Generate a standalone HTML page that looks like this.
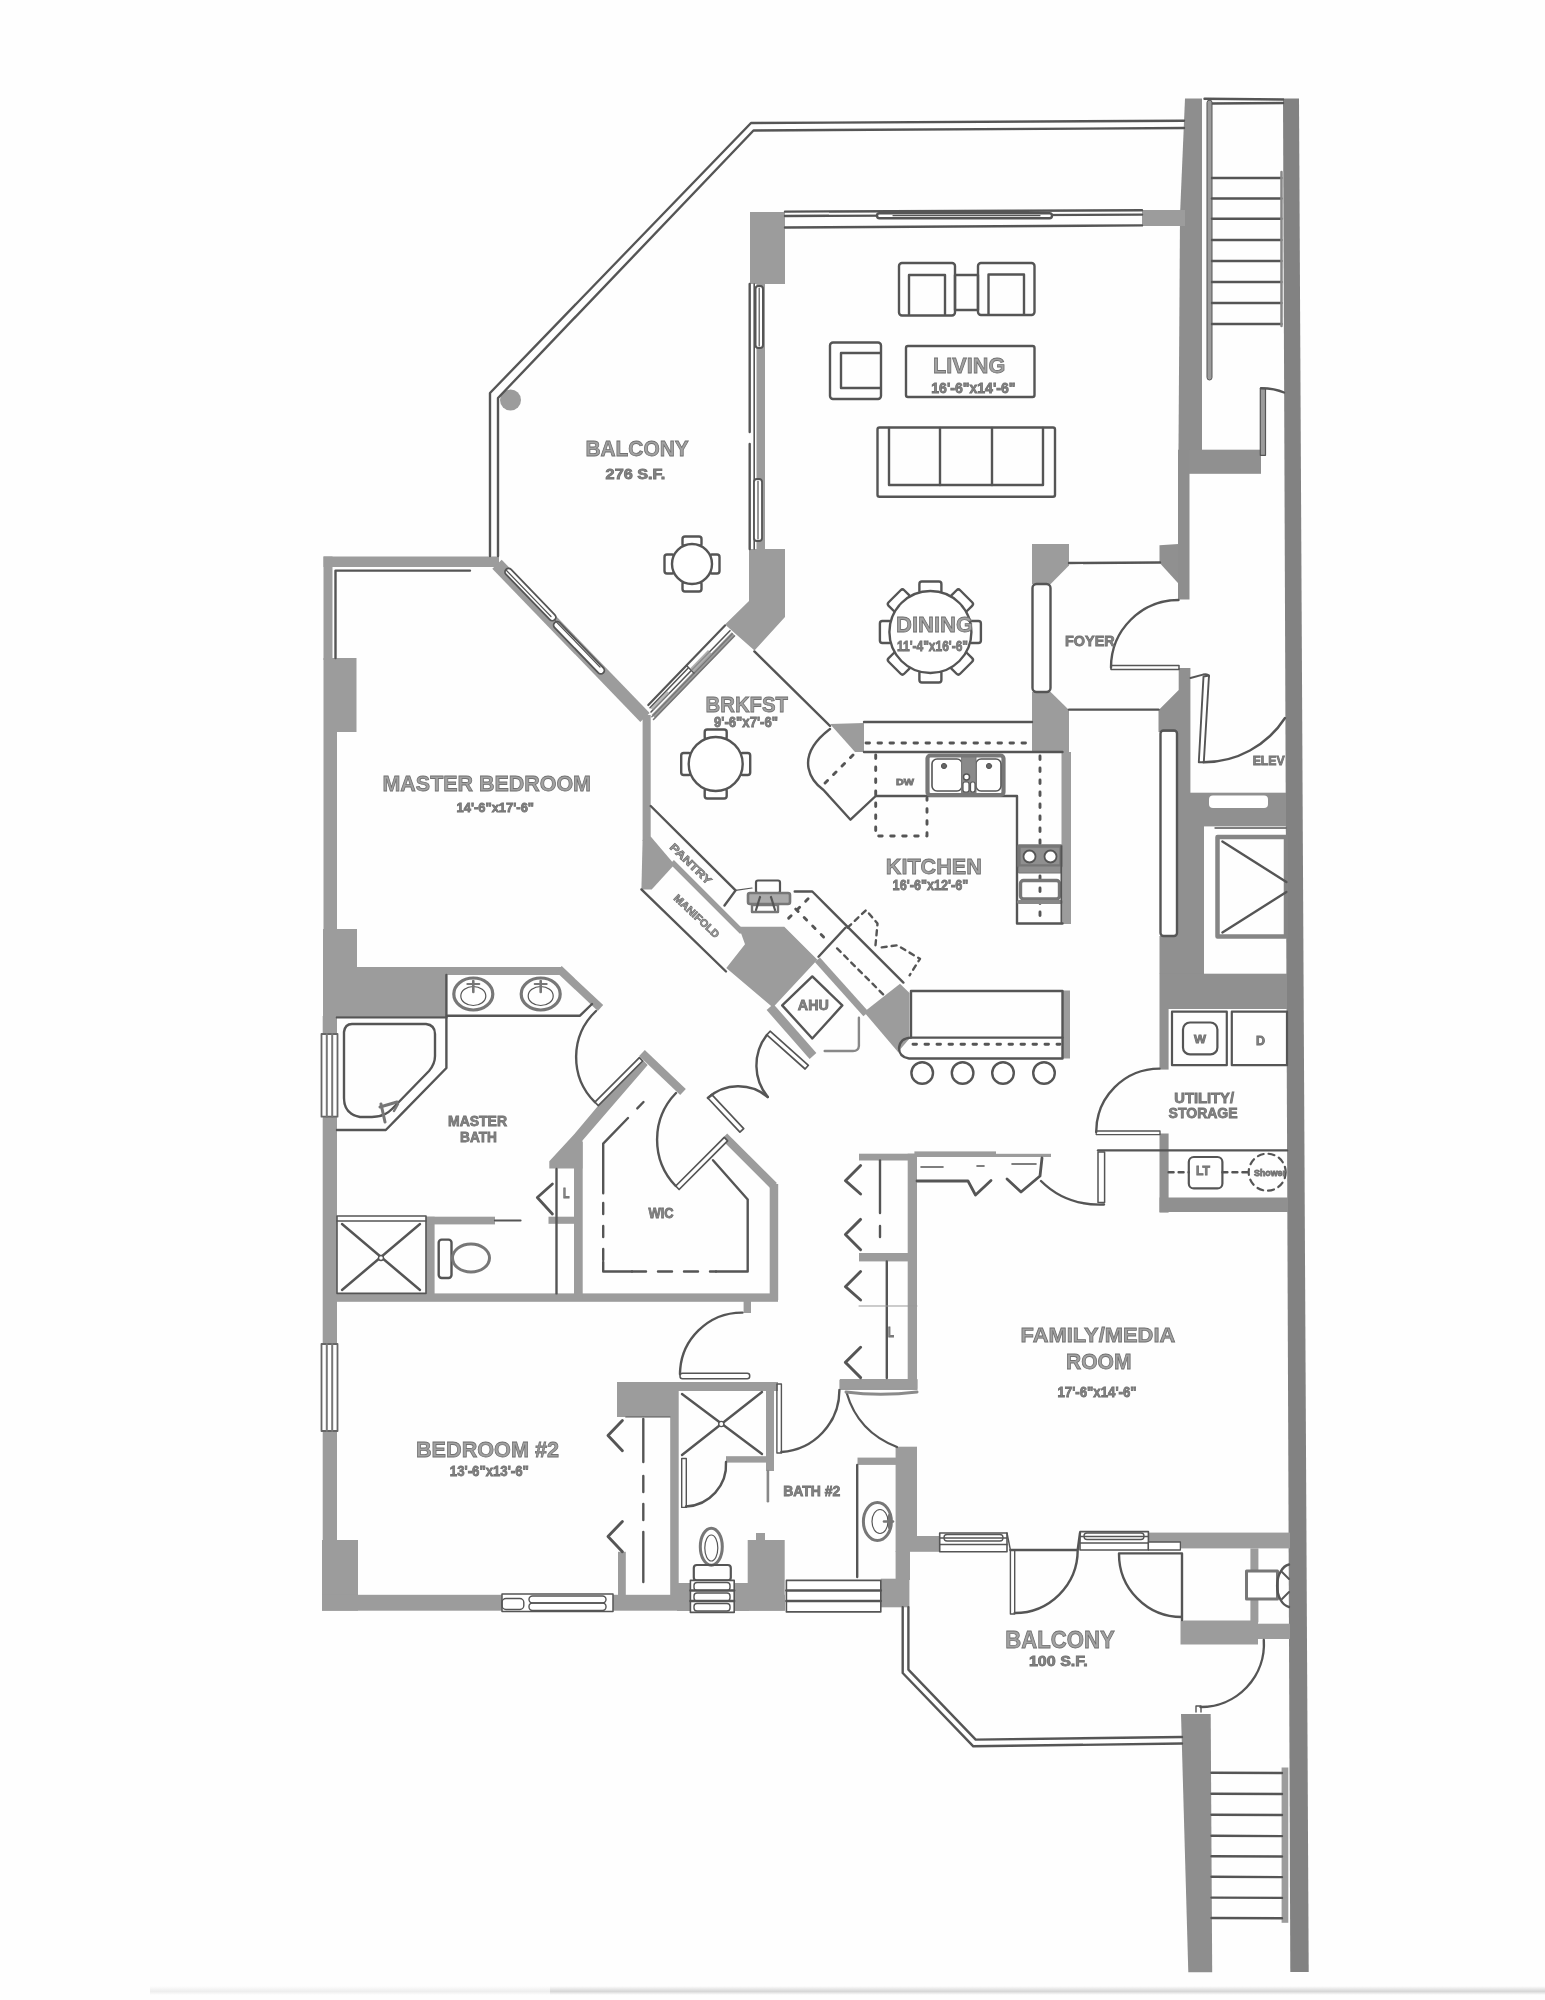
<!DOCTYPE html>
<html><head><meta charset="utf-8"><title>Floor Plan</title>
<style>
html,body{margin:0;padding:0;background:#fff;}
body{width:1545px;height:2000px;overflow:hidden;font-family:"Liberation Sans",sans-serif;}
svg{display:block;}
text{font-family:"Liberation Sans",sans-serif;}
</style></head><body>
<svg width="1545" height="2000" viewBox="0 0 1545 2000">
<defs>
<filter id="soft" x="-2%" y="-2%" width="104%" height="104%"><feGaussianBlur stdDeviation="0.55"/></filter>
<linearGradient id="wg" gradientUnits="userSpaceOnUse" x1="1120" y1="0" x2="1295" y2="0"><stop offset="0" stop-color="#9c9c9c"/><stop offset="0.6" stop-color="#8e8e8e"/><stop offset="1" stop-color="#828282"/></linearGradient>
<linearGradient id="shadow" x1="0" y1="0" x2="0" y2="1"><stop offset="0" stop-color="#fff"/><stop offset="0.6" stop-color="#cfcfcf"/><stop offset="1" stop-color="#fff"/></linearGradient>
</defs>
<rect width="1545" height="2000" fill="#fefefe"/>
<g filter="url(#soft)">
<g fill="#9c9c9c">
<polygon points="1283.0,98.5 1299.0,98.5 1308.7,1972.0 1290.3,1972.0" fill="#828282"/>
<polygon points="1185.0,98.5 1202.0,98.5 1202.0,450.0 1178.5,450.0 1180.0,215.0" fill="#8e8e8e"/>
<rect x="1189.0" y="449.7" width="72.0" height="24.1" fill="#909090"/>
<rect x="1178.0" y="449.7" width="11.5" height="149.8" fill="#8e8e8e"/>
<rect x="1142.0" y="210.0" width="43.0" height="16.0"/>
<rect x="750.0" y="212.0" width="35.0" height="72.0"/>
<rect x="756.5" y="284.0" width="8.5" height="265.0"/>
<polygon points="749.0,549.0 785.0,549.0 785.0,617.0 754.5,650.5 725.0,624.5 749.0,601.0"/>
<circle cx="510.5" cy="400" r="10.5"/>
<polygon points="1032.0,544.0 1069.0,544.0 1069.0,565.5 1050.7,584.0 1032.0,584.0"/>
<polygon points="1032.0,692.0 1050.7,692.0 1069.0,710.0 1069.0,752.0 1032.0,752.0"/>
<rect x="1061.5" y="752.0" width="9.5" height="172.0"/>
<polygon points="1159.5,545.3 1178.4,544.0 1178.4,583.6 1159.5,562.8" fill="#909090"/>
<polygon points="1178.7,668.0 1190.4,668.0 1190.4,732.0 1158.5,732.0 1158.5,710.3 1178.7,690.0" fill="#909090"/>
<rect x="1177.0" y="732.0" width="13.4" height="98.0" fill="#909090"/>
<rect x="1190.0" y="792.7" width="96.0" height="33.7" fill="#909090"/>
<rect x="1177.0" y="826.0" width="27.0" height="148.0" fill="#909090"/>
<rect x="1159.5" y="936.0" width="18.5" height="38.0" fill="#909090"/>
<rect x="1159.5" y="973.7" width="127.5" height="35.3" fill="#909090"/>
<rect x="1159.5" y="1009.0" width="9.1" height="60.6" fill="#909090"/>
<rect x="1159.5" y="1133.5" width="9.1" height="79.1" fill="#909090"/>
<rect x="1159.5" y="1197.5" width="128.5" height="14.5" fill="#909090"/>
<polygon points="830.0,724.0 864.0,723.0 864.0,752.0 855.0,752.0"/>
<rect x="1062.5" y="990.5" width="7.5" height="68.0"/>
<rect x="323.5" y="556.5" width="175.5" height="10.5"/>
<rect x="323.5" y="556.5" width="9.0" height="103.5"/>
<rect x="323.5" y="658.0" width="33.0" height="74.0"/>
<rect x="323.5" y="732.0" width="13.5" height="198.0"/>
<rect x="323.0" y="929.0" width="34.0" height="39.0"/>
<rect x="323.0" y="967.0" width="123.0" height="49.5"/>
<rect x="446.0" y="967.0" width="116.0" height="8.0"/>
<polygon points="556.3,971.9 597.8,1010.9 603.2,1005.1 561.7,966.1"/>
<rect x="322.7" y="1016.0" width="14.3" height="525.0"/>
<rect x="322.0" y="1540.0" width="36.0" height="70.7"/>
<rect x="322.0" y="1594.8" width="463.0" height="15.9"/>
<polygon points="492.3,568.8 640.3,722.0 649.7,713.0 501.7,559.8"/>
<polygon points="655.3,718.2 735.3,635.7 731.7,632.3 651.7,714.8"/>
<rect x="642.6" y="715.0" width="8.1" height="126.0"/>
<polygon points="642.6,840.0 650.7,836.6 674.5,864.5 651.7,889.4 641.4,889.4"/>
<polygon points="670.1,863.9 740.1,933.9 743.9,930.1 673.9,860.1"/>
<polygon points="738.7,926.7 784.3,926.7 817.4,959.8 772.9,1007.4 726.3,968.0 745.0,944.3"/>
<polygon points="766.6,1010.0 809.6,1059.0 816.4,1053.0 773.4,1004.0"/>
<polygon points="814.8,962.1 863.4,1016.3 868.6,1011.7 820.0,957.5"/>
<polygon points="864.0,1012.0 900.0,983.7 909.5,993.0 909.5,1038.5 898.0,1052.0"/>
<rect x="335.0" y="1293.4" width="443.0" height="8.4"/>
<rect x="426.0" y="1216.7" width="8.6" height="77.3"/>
<rect x="426.0" y="1216.7" width="69.0" height="7.7"/>
<rect x="548.5" y="1216.7" width="26.5" height="7.1"/>
<polygon points="639.4,1056.6 647.7,1065.0 582.5,1140.5 582.5,1168.5 549.3,1168.5 549.3,1161.2 574.2,1134.3"/>
<rect x="574.0" y="1142.0" width="8.7" height="156.5"/>
<polygon points="639.2,1055.9 680.2,1094.9 685.8,1089.1 644.8,1050.1"/>
<polygon points="721.4,1139.3 771.1,1188.9 776.9,1183.1 727.2,1133.5"/>
<rect x="769.7" y="1184.0" width="8.5" height="116.0"/>
<rect x="743.6" y="1300.0" width="7.4" height="13.0"/>
<rect x="859.0" y="1153.7" width="57.0" height="6.8"/>
<rect x="907.7" y="1153.7" width="9.3" height="230.6"/>
<rect x="859.0" y="1253.0" width="49.0" height="8.4"/>
<rect x="840.0" y="1379.0" width="77.5" height="11.0"/>
<rect x="914.4" y="1151.4" width="81.6" height="5.6"/>
<rect x="996.0" y="1153.8" width="55.0" height="3.2"/>
<rect x="617.0" y="1384.0" width="58.3" height="33.0"/>
<rect x="617.0" y="1382.0" width="161.0" height="9.0"/>
<rect x="670.2" y="1390.0" width="8.5" height="206.0"/>
<rect x="618.0" y="1551.8" width="7.8" height="44.2"/>
<rect x="766.0" y="1382.0" width="8.0" height="89.0"/>
<rect x="726.0" y="1456.2" width="42.0" height="6.4"/>
<rect x="747.7" y="1540.0" width="37.0" height="70.7"/>
<rect x="677.0" y="1583.0" width="72.0" height="28.0"/>
<rect x="756.0" y="1533.0" width="9.0" height="8.0"/>
<rect x="839.4" y="1379.7" width="77.9" height="9.0"/>
<rect x="895.6" y="1446.7" width="21.4" height="105.1"/>
<rect x="895.6" y="1551.0" width="14.4" height="29.0"/>
<rect x="880.8" y="1578.7" width="28.6" height="28.6"/>
<rect x="857.5" y="1457.6" width="38.5" height="7.3"/>
<rect x="917.0" y="1536.0" width="23.0" height="15.8"/>
<rect x="1148.4" y="1532.6" width="141.6" height="15.8"/>
<rect x="1250.4" y="1548.4" width="8.0" height="74.0"/>
<rect x="1180.5" y="1620.5" width="77.5" height="24.0"/>
<rect x="1258.0" y="1623.7" width="32.0" height="15.3"/>
<polygon points="1181.0,1714.0 1210.7,1714.0 1212.2,1972.3 1188.3,1972.3" fill="#8e8e8e"/>
<rect x="1281.6" y="1767.5" width="6.7" height="155.3"/>
</g>
<g fill="none" stroke="#555" stroke-width="2.4" stroke-linecap="round" stroke-linejoin="round">
<polyline points="490.0,556.0 490.0,393.0 751.0,123.0 1184.0,120.8"/>
<polyline points="498.0,556.0 498.0,398.0 753.5,130.5 1184.0,128.0"/>
<polyline points="1204.5,98.8 1283.0,99.5"/>
<polyline points="1210.0,103.5 1283.0,103.0"/>
<rect x="1207" y="100" width="5" height="280" rx="2.5" fill="#9c9c9c" stroke-width="1"/>
<polyline points="1212.0,178.0 1281.5,178.0"/>
<polyline points="1212.0,198.5 1281.5,198.5"/>
<polyline points="1212.0,218.7 1281.5,218.7"/>
<polyline points="1212.0,240.0 1281.5,240.0"/>
<polyline points="1212.0,261.0 1281.5,261.0"/>
<polyline points="1212.0,282.0 1281.5,282.0"/>
<polyline points="1212.0,303.0 1281.5,303.0"/>
<polyline points="1212.0,324.0 1281.5,324.0"/>
<polyline points="1281.5,172.0 1281.5,326.0" stroke-width="2.5" stroke="#888"/>
<rect x="1260.3" y="388.3" width="5.2" height="67" fill="#9c9c9c" stroke-width="1.2"/>
<path d="M1261,388.3 Q1275,388.5 1284,392.5"/>
<polyline points="785.0,211.6 1142.0,210.2"/>
<polyline points="785.0,216.0 1142.0,214.6"/>
<polyline points="785.0,227.5 1142.0,225.4"/>
<rect x="877.0" y="213.2" width="175.0" height="5.0" rx="2.5" fill="#fff"/>
<polyline points="893.0,215.7 1040.0,215.7" stroke-width="1.2"/>
<polyline points="749.7,284.0 749.7,432.0"/>
<polyline points="749.7,444.0 749.7,549.0"/>
<rect x="755.5" y="286.0" width="7.5" height="62.0" rx="3" fill="#fff" stroke-width="2"/>
<polyline points="759.2,288.0 759.2,346.0" stroke-width="1.2"/>
<polyline points="754.2,284.0 754.2,549.0" stroke-width="1.6"/>
<rect x="754.0" y="479.0" width="8.0" height="62.0" rx="3" fill="#fff" stroke-width="1.8"/>
<polyline points="758.0,481.0 758.0,539.0" stroke-width="1.2"/>
<rect x="899.0" y="263.0" width="56.0" height="52.5" rx="3"/>
<polyline points="909.0,314.5 909.0,275.0 945.0,275.0 945.0,314.5"/>
<rect x="955.0" y="275.0" width="23.0" height="35.0"/>
<rect x="978.0" y="263.0" width="56.5" height="52.0" rx="3"/>
<polyline points="988.5,314.5 988.5,274.5 1024.0,274.5 1024.0,314.5"/>
<rect x="830.0" y="342.5" width="51.0" height="56.5" rx="3"/>
<polyline points="880.0,353.0 841.0,353.0 841.0,388.0 880.0,388.0"/>
<rect x="906.0" y="346.0" width="128.5" height="51.0" rx="2"/>
<rect x="877.5" y="427.5" width="177.5" height="69.2" rx="2"/>
<polyline points="889.0,428.0 889.0,485.0 1043.0,485.0 1043.0,428.0"/>
<polyline points="940.0,428.0 940.0,485.0"/>
<polyline points="992.0,428.0 992.0,485.0"/>
<rect x="919.4" y="581.5" width="22" height="12" rx="2.5" fill="#fff" transform="rotate(0.0 930.4 587.5)"/>
<rect x="950.9" y="594.5" width="22" height="12" rx="2.5" fill="#fff" transform="rotate(45.0 961.9 600.5)"/>
<rect x="963.9" y="626.0" width="22" height="12" rx="2.5" fill="#fff" transform="rotate(90.0 974.9 632.0)"/>
<rect x="950.9" y="657.5" width="22" height="12" rx="2.5" fill="#fff" transform="rotate(135.0 961.9 663.5)"/>
<rect x="919.4" y="670.5" width="22" height="12" rx="2.5" fill="#fff" transform="rotate(180.0 930.4 676.5)"/>
<rect x="887.9" y="657.5" width="22" height="12" rx="2.5" fill="#fff" transform="rotate(225.0 898.9 663.5)"/>
<rect x="874.9" y="626.0" width="22" height="12" rx="2.5" fill="#fff" transform="rotate(270.0 885.9 632.0)"/>
<rect x="887.9" y="594.5" width="22" height="12" rx="2.5" fill="#fff" transform="rotate(315.0 898.9 600.5)"/>
<circle cx="930.4" cy="632.0" r="41.0" fill="#fff"/>
<rect x="682.5" y="536.5" width="19" height="10" rx="2.5" fill="#fff" transform="rotate(0.0 692.0 541.5)"/>
<rect x="705.0" y="559.0" width="19" height="10" rx="2.5" fill="#fff" transform="rotate(90.0 714.5 564.0)"/>
<rect x="682.5" y="581.5" width="19" height="10" rx="2.5" fill="#fff" transform="rotate(180.0 692.0 586.5)"/>
<rect x="660.0" y="559.0" width="19" height="10" rx="2.5" fill="#fff" transform="rotate(270.0 669.5 564.0)"/>
<circle cx="692.0" cy="564.0" r="20.0" fill="#fff"/>
<rect x="704.7" y="729.5" width="22" height="10" rx="2.5" fill="#fff" transform="rotate(0.0 715.7 734.5)"/>
<rect x="734.2" y="759.0" width="22" height="10" rx="2.5" fill="#fff" transform="rotate(90.0 745.2 764.0)"/>
<rect x="704.7" y="788.5" width="22" height="10" rx="2.5" fill="#fff" transform="rotate(180.0 715.7 793.5)"/>
<rect x="675.2" y="759.0" width="22" height="10" rx="2.5" fill="#fff" transform="rotate(270.0 686.2 764.0)"/>
<circle cx="715.7" cy="764.0" r="27.0" fill="#fff"/>
<rect x="1032.5" y="584.0" width="18.0" height="108.0" rx="4"/>
<polyline points="1069.0,563.0 1160.0,562.5"/>
<polyline points="1069.0,709.6 1158.5,709.6"/>
<path d="M1178.5,600 A67.5,67.5 0 0 0 1111,667.5"/>
<rect x="1111.0" y="665.5" width="68.0" height="4.0" stroke-width="1.5"/>
<rect x="1160.5" y="730.5" width="16.5" height="205.5" rx="3"/>
<polygon points="1203.5,676.5 1209,675.5 1203.8,762.3 1198.8,762.3" fill="#fff" stroke-width="1.9"/>
<path d="M1190.5,678 L1203,674.6 Q1208,673.5 1209,676.5" stroke-width="2"/>
<path d="M1203.6,762.3 A97,97 0 0 0 1285,718"/>
<rect x="1209" y="795.4" width="59" height="12.6" rx="4" fill="#fff" stroke="none"/>
<rect x="1217.5" y="837.0" width="68.5" height="99.5" stroke-width="4.5" stroke="#858585"/>
<polyline points="1215.0,828.0 1286.0,828.0" stroke-width="1.3"/>
<polyline points="1222.4,841.5 1286.4,882.0"/>
<polyline points="1286.4,892.0 1222.4,932.4"/>
<polyline points="864.0,722.0 1032.0,722.0"/>
<polyline points="866.0,743.0 1030.0,743.0" stroke-dasharray="3.5 8.5" stroke-width="2.9"/>
<polyline points="864.0,752.0 1062.5,752.0"/>
<polyline points="875.7,796.0 1017.0,796.0 1017.0,923.5 1062.5,923.5"/>
<polyline points="875.7,755.0 875.7,836.0 927.0,836.0 927.0,798.0" stroke-dasharray="3.5 8.5" stroke-width="2.9"/>
<rect x="927.5" y="755.5" width="76.0" height="39.5" rx="3" stroke-width="4.2" stroke="#777"/>
<rect x="932.0" y="759.0" width="30.0" height="32.0" rx="5" fill="#fff" stroke-width="1.6"/>
<rect x="976.0" y="759.0" width="25.0" height="32.0" rx="5" fill="#fff" stroke-width="1.6"/>
<rect x="962.0" y="757.0" width="14.0" height="36.0" fill="#8a8a8a" stroke-width="1" stroke="#777"/>
<circle cx="944.0" cy="766.0" r="2.6" fill="#666" stroke-width="1"/>
<circle cx="989.0" cy="766.0" r="2.6" fill="#666" stroke-width="1"/>
<circle cx="966.5" cy="777.0" r="3.0" fill="#fff" stroke-width="1.5"/>
<rect x="963.0" y="782.0" width="6.0" height="10.0" rx="2" fill="#fff" stroke-width="1.2"/>
<rect x="970.5" y="782.0" width="4.5" height="10.0" rx="2" fill="#fff" stroke-width="1.2"/>
<polyline points="1040.0,756.0 1040.0,918.0" stroke-dasharray="3.5 8.5" stroke-width="2.9"/>
<rect x="1019.0" y="846.0" width="42.0" height="20.0" fill="#8f8f8f" stroke-width="3.4" stroke="#777"/>
<circle cx="1029.5" cy="856.5" r="6.0" fill="#fff" stroke-width="1.8"/>
<circle cx="1050.5" cy="856.5" r="6.0" fill="#fff" stroke-width="1.8"/>
<rect x="1019.0" y="866.0" width="42.0" height="7.0" fill="#8f8f8f" stroke-width="1" stroke="#777"/>
<rect x="1020.5" y="880.5" width="39.0" height="18.5" rx="3" stroke-width="3.4" stroke="#777"/>
<polyline points="1019.0,902.0 1061.0,902.0" stroke-width="4" stroke="#888"/>
<polyline points="1061.3,846.0 1061.3,923.5" stroke-width="1.6"/>
<path d="M830,729 Q805,748 808.5,768 Q811,781 823.5,790 L850.5,819.7 L875.7,796"/>
<polyline points="853.0,755.0 824.0,784.0" stroke-dasharray="3.5 8.5" stroke-width="2.9"/>
<polyline points="754.4,651.4 830.0,726.0"/>
<polyline points="335.5,658.0 335.5,570.6 470.0,570.6"/>
<rect x="506.1" y="565.9" width="70.0" height="7.0" rx="3.5" fill="#fff" stroke-width="1.8" transform="rotate(45.96 506.1 569.4)"/>
<rect x="554.7" y="619.1" width="69.9" height="7.0" rx="3.5" fill="#fff" stroke-width="1.8" transform="rotate(45.98 554.7 622.6)"/>
<polyline points="506.5,570.5 551.0,616.5" stroke-width="1.2"/>
<polyline points="555.5,621.0 600.0,667.0" stroke-width="1.2"/>
<polyline points="648.3,705.0 725.0,625.5" stroke-width="2.2"/>
<polyline points="650.0,707.7 688.0,668.3" stroke-width="1.5"/>
<polyline points="651.0,712.0 730.0,630.7" stroke-width="1.6"/>
<polyline points="653.5,719.5 734.5,636.0" stroke-width="1.6" stroke="#777"/>
<polyline points="651.8,716.8 732.3,633.8" stroke-width="1.3" stroke="#777"/>
<polyline points="686.5,665.5 694.0,673.0" stroke-width="1.5"/>
<polygon points="690,668.5 708,650 712,654 694,672.5" fill="#9c9c9c" stroke="none" opacity="0.8"/>
<polygon points="650.5,708 667,691 669.5,693.5 653,710.5" fill="#9c9c9c" stroke="none" opacity="0.7"/>
<rect x="321.5" y="1034.0" width="16.0" height="82.7" fill="#fff" stroke-width="1.8" stroke="#666"/>
<polyline points="326.8,1034.0 326.8,1116.7" stroke-width="2" stroke="#777"/>
<polyline points="332.2,1034.0 332.2,1116.7" stroke-width="2" stroke="#777"/>
<rect x="321.5" y="1344.0" width="16.0" height="87.0" fill="#fff" stroke-width="1.8" stroke="#666"/>
<polyline points="326.8,1344.0 326.8,1431.0" stroke-width="2" stroke="#777"/>
<polyline points="332.2,1344.0 332.2,1431.0" stroke-width="2" stroke="#777"/>
<polyline points="650.7,806.0 735.6,890.4 724.5,905.5"/>
<polyline points="641.4,889.4 726.0,971.5"/>
<polyline points="794.7,891.5 812.3,891.5 903.4,982.6"/>
<polyline points="845.4,927.7 818.5,956.7"/>
<polyline points="735.6,890.4 752.0,888.0" stroke-width="1.2"/>
<polyline points="808.1,898.7 784.3,922.5" stroke-dasharray="3.5 8.5" stroke-width="2.9"/>
<polyline points="795.7,909.0 828.8,942.2" stroke-dasharray="3.5 8.5" stroke-width="2.9"/>
<polyline points="837.1,948.4 884.8,996.0" stroke-dasharray="5 5"/>
<polyline points="847.5,927.7 866.1,910.1 877.5,923.6 875.4,946.3" stroke-dasharray="5 5"/>
<polyline points="881.7,947.4 897.2,945.3 920.0,958.8 909.6,975.3" stroke-dasharray="5 5"/>
<rect x="756.0" y="880.5" width="24.0" height="12.5" rx="2" stroke-width="2.2"/>
<rect x="748.0" y="893.0" width="42.0" height="11.0" rx="2" fill="#aaa" stroke-width="2.6" stroke="#777"/>
<polyline points="752.0,912.0 778.0,912.0 778.0,905.0 752.0,905.0 752.0,912.0" stroke-width="2.4" stroke="#777"/>
<polyline points="760.0,897.0 756.0,910.0" stroke-width="2.2"/>
<polyline points="771.0,897.0 775.0,910.0" stroke-width="2.2"/>
<polygon points="812.3,976.4 842.3,1005.4 812.3,1038.5 782.2,1005.4"/>
<path d="M858.9,1017.8 L858.9,1046 Q858.5,1051 853,1051 L824.7,1051" stroke-width="2.4" stroke="#888"/>
<polyline points="446.4,975.0 446.4,1015.7 580.0,1015.7 592.0,1004.0"/>
<polyline points="446.4,1017.0 446.4,1068.0 385.8,1130.0 337.0,1130.0"/>
<polyline points="337.0,1017.4 446.4,1017.4"/>
<ellipse cx="473.3" cy="994.0" rx="19.5" ry="16.0" stroke-width="3.2" stroke="#777"/>
<ellipse cx="473.3" cy="996.0" rx="12.5" ry="9.5" stroke-width="1.2"/>
<polyline points="473.3,981.0 473.3,992.0" stroke-width="2.6" stroke="#777"/>
<polyline points="467.3,984.0 479.3,984.0" stroke-width="2" stroke="#777"/>
<ellipse cx="540.7" cy="994.0" rx="19.5" ry="16.0" stroke-width="3.2" stroke="#777"/>
<ellipse cx="540.7" cy="996.0" rx="12.5" ry="9.5" stroke-width="1.2"/>
<polyline points="540.7,981.0 540.7,992.0" stroke-width="2.6" stroke="#777"/>
<polyline points="534.7,984.0 546.7,984.0" stroke-width="2" stroke="#777"/>
<path d="M352,1024 L426,1024 Q435,1025 435,1034 L435,1056 Q435,1064 429,1071 L392,1109 Q384,1117 372,1117 L360,1117 Q344,1114 344,1098 L344,1032 Q345,1024 352,1024 Z"/>
<polyline points="380.0,1107.0 397.0,1102.0" stroke-width="3" stroke="#777"/>
<polyline points="385.0,1122.0 381.0,1104.0" stroke-width="3" stroke="#777"/>
<polyline points="394.0,1111.0 398.0,1104.0" stroke-width="2.5" stroke="#777"/>
<rect x="337.0" y="1216.0" width="89.0" height="77.4" stroke-width="1.6"/>
<polyline points="337.0,1221.0 426.0,1221.0" stroke-width="1.3"/>
<polyline points="342.0,1224.0 420.0,1290.0"/>
<polyline points="420.0,1224.0 342.0,1290.0"/>
<circle cx="381.0" cy="1258.0" r="2.5" fill="#fff" stroke-width="1.4"/>
<polyline points="495.0,1220.5 520.5,1220.5" stroke-width="2.2"/>
<rect x="438.7" y="1239.6" width="12.8" height="38.4" rx="3"/>
<ellipse cx="471.0" cy="1258.0" rx="18.5" ry="14.0" stroke-width="3" stroke="#777"/>
<polyline points="556.5,1169.0 556.5,1293.4"/>
<polyline points="552.4,1184.0 537.3,1197.5 552.4,1214.0" stroke-width="2.8"/>
<path d="M594.9,1102.2 A63.5,63.5 0 0 1 596,1011"/>
<polygon points="594.9,1102.2 639.4,1057.7 642.6,1061 598.3,1105.6" fill="#fff" stroke-width="1.7"/>
<path d="M675.7,1186 A67,67 0 0 1 676,1093"/>
<polygon points="675.7,1186 724.3,1137.4 727.6,1140.8 679.1,1189.5" fill="#fff" stroke-width="1.7"/>
<polygon points="707.8,1098 739.9,1132.2 743.7,1128.6 711.6,1094.4" fill="#fff" stroke-width="1.7"/>
<path d="M707.8,1098 A45.6,45.6 0 0 1 767.8,1097"/>
<polygon points="766.8,1034.9 805.1,1069 808.4,1065.3 770.1,1031.2" fill="#fff" stroke-width="1.7"/>
<path d="M766.8,1034.9 A49.7,49.7 0 0 0 767.8,1097"/>
<polyline points="637.3,1108.4 643.5,1102.0"/>
<polyline points="628.0,1118.0 603.2,1143.6 603.2,1193.3"/>
<polyline points="603.2,1203.0 603.2,1262.0" stroke-dasharray="11 12"/>
<polyline points="603.2,1262.0 603.2,1271.5 632.0,1271.5"/>
<polyline points="632.0,1271.5 716.0,1271.5" stroke-dasharray="14 12"/>
<polyline points="716.0,1271.5 747.7,1271.5 747.7,1199.5 713.0,1160.2"/>
<path d="M742.5,1312.6 A62,62 0 0 0 680,1374.2"/>
<rect x="680.0" y="1373.3" width="69.7" height="5.5" rx="2.5" fill="#fff" stroke-width="1.5"/>
<rect x="911.0" y="991.0" width="151.5" height="46.6"/>
<path d="M1062.5,1037.6 L1062.5,1058.5 L909,1058.5 Q899,1057 899,1048 Q900,1038 911,1037.6"/>
<polyline points="913.0,1044.3 1060.0,1044.3" stroke-dasharray="3.5 8.5" stroke-width="2.9"/>
<circle cx="922.2" cy="1073.0" r="10.8" fill="#fff"/>
<circle cx="962.6" cy="1073.0" r="10.8" fill="#fff"/>
<circle cx="1003.0" cy="1073.0" r="10.8" fill="#fff"/>
<circle cx="1044.0" cy="1073.0" r="10.8" fill="#fff"/>
<rect x="1172.0" y="1011.7" width="54.8" height="53.5" stroke-width="2.2"/>
<rect x="1183.0" y="1022.5" width="34.4" height="31.9" rx="7" stroke-width="2.2"/>
<rect x="1231.8" y="1011.7" width="55.2" height="53.5" stroke-width="2.2"/>
<path d="M1159.5,1068.6 A63.3,63.3 0 0 0 1096.2,1131.9"/>
<rect x="1096.2" y="1131.0" width="63.8" height="3.6" stroke-width="1.3"/>
<polyline points="1098.0,1150.4 1287.0,1150.4"/>
<rect x="1188.8" y="1157.0" width="33.6" height="31.4" rx="5" stroke-width="2.2"/>
<polyline points="1168.6,1172.2 1188.8,1172.2" stroke-dasharray="5 5"/>
<polyline points="1222.4,1172.2 1250.0,1172.2" stroke-dasharray="5 5"/>
<circle cx="1267.2" cy="1172.2" r="18.5" stroke-dasharray="6 5" stroke-width="2.2"/>
<rect x="1098.0" y="1152.0" width="6.6" height="50.5" stroke-width="1.5"/>
<path d="M1104,1204.5 Q1066,1206 1041,1181"/>
<polyline points="917.0,1181.0 968.0,1181.0 975.5,1195.0 991.0,1180.5" stroke-width="2.8"/>
<polyline points="1007.0,1179.0 1021.0,1192.0 1040.0,1176.0 1042.0,1158.0" stroke-width="2.8"/>
<polyline points="921.0,1167.0 943.0,1167.0" stroke-width="1.6"/>
<polyline points="977.0,1166.0 984.0,1166.0" stroke-width="1.6"/>
<polyline points="1012.0,1164.0 1036.0,1164.0" stroke-width="1.6"/>
<polyline points="880.0,1160.5 880.0,1213.0"/>
<polyline points="880.0,1226.0 880.0,1237.0"/>
<polyline points="886.8,1261.4 886.8,1378.0"/>
<polyline points="860.6,1165.5 845.4,1180.7 860.6,1194.0" stroke-width="2.9"/>
<polyline points="860.6,1219.4 845.4,1234.5 860.6,1249.7" stroke-width="2.9"/>
<polyline points="860.6,1271.5 845.4,1286.7 860.6,1300.0" stroke-width="2.9"/>
<polyline points="860.6,1347.3 845.4,1362.4 860.6,1377.6" stroke-width="2.9"/>
<polyline points="859.0,1306.0 917.0,1306.0" stroke-width="1" stroke="#999"/>
<polyline points="622.4,1420.5 608.0,1435.6 622.4,1450.8" stroke-width="2.9"/>
<polyline points="622.4,1521.5 608.0,1536.6 622.4,1551.8" stroke-width="2.9"/>
<polyline points="643.3,1419.0 643.3,1462.0"/>
<polyline points="643.3,1476.0 643.3,1492.0"/>
<polyline points="643.3,1504.0 643.3,1520.0"/>
<polyline points="643.3,1532.0 643.3,1582.0"/>
<polyline points="625.8,1417.0 670.0,1417.0" stroke-width="1.2"/>
<polyline points="682.0,1394.0 762.0,1454.0"/>
<polyline points="762.0,1392.0 682.0,1455.0"/>
<circle cx="721.3" cy="1424.0" r="2.6" fill="#fff" stroke-width="1.4"/>
<rect x="681.7" y="1458.5" width="4.6" height="48.9" stroke-width="1.4"/>
<path d="M726,1462 A42,42 0 0 1 686,1506.5"/>
<polyline points="767.9,1471.0 767.9,1501.3" stroke-width="2.6" stroke="#888"/>
<rect x="776.9" y="1384.0" width="4.5" height="69.0" stroke-width="1.4"/>
<path d="M781.4,1452 A62,62 0 0 0 839.4,1390"/>
<path d="M846.7,1393 Q858,1432 897,1447" stroke-width="2.2"/>
<path d="M846,1392 Q880,1396.5 917,1392" stroke-width="3" stroke="#8a8a8a"/>
<ellipse cx="711.3" cy="1546.7" rx="11.0" ry="18.5" stroke-width="3" stroke="#777"/>
<ellipse cx="711.3" cy="1548.0" rx="6.5" ry="13.0" stroke-width="1.2"/>
<rect x="693.8" y="1565.0" width="37.0" height="15.4" rx="3" stroke-width="2.2"/>
<rect x="690.4" y="1580.4" width="43.8" height="32" fill="#fff" stroke-width="1.6"/>
<polyline points="690.4,1590.5 734.2,1590.5"/>
<polyline points="690.4,1601.0 734.2,1601.0"/>
<rect x="694.0" y="1582.5" width="36.0" height="8.0" rx="3" stroke-width="1.4"/>
<rect x="694.0" y="1593.0" width="36.0" height="8.0" rx="3" stroke-width="1.4"/>
<rect x="694.0" y="1603.5" width="36.0" height="7.5" rx="3" stroke-width="1.4"/>
<rect x="786.4" y="1580.4" width="94.4" height="31.5" fill="#fff" stroke-width="1.6"/>
<polyline points="786.4,1590.5 880.8,1590.5"/>
<polyline points="786.4,1601.0 880.8,1601.0"/>
<rect x="502" y="1594" width="111" height="17.5" fill="#fff" stroke-width="1.5"/>
<rect x="502.0" y="1598.5" width="21.8" height="11.0" rx="4" stroke-width="1.4"/>
<rect x="529.0" y="1596.0" width="77.0" height="7.0" rx="3.5" stroke-width="1.4"/>
<rect x="529.0" y="1603.0" width="77.0" height="7.5" rx="3.5" stroke-width="1.4"/>
<polyline points="857.2,1465.0 857.2,1577.0"/>
<ellipse cx="877.4" cy="1521.5" rx="14.0" ry="19.0" stroke-width="3" stroke="#777"/>
<ellipse cx="880.0" cy="1521.5" rx="8.0" ry="12.0" stroke-width="1.2"/>
<polyline points="884.0,1521.5 893.0,1521.5" stroke-width="2.6" stroke="#777"/>
<polyline points="889.0,1515.0 889.0,1528.0" stroke-width="2" stroke="#777"/>
<rect x="939.7" y="1533" width="67.3" height="18.8" fill="#fff" stroke-width="1.6"/>
<polyline points="939.7,1538.0 1007.0,1538.0" stroke-width="1.3"/>
<polyline points="939.7,1544.5 1007.0,1544.5" stroke-width="1.3"/>
<rect x="944.0" y="1534.5" width="59.0" height="6.5" rx="3" stroke-width="1.3"/>
<rect x="1080" y="1531.6" width="68.4" height="18.4" fill="#fff" stroke-width="1.6"/>
<polyline points="1080.0,1536.5 1148.4,1536.5" stroke-width="1.3"/>
<polyline points="1080.0,1543.0 1148.4,1543.0" stroke-width="1.3"/>
<rect x="1084.0" y="1533.0" width="60.0" height="6.5" rx="3" stroke-width="1.3"/>
<rect x="1148.4" y="1542" width="32" height="8" fill="#fff" stroke-width="1.3"/>
<polyline points="1007.0,1533.0 1010.4,1550.0" stroke-width="1.4"/>
<rect x="1010.4" y="1550.0" width="4.3" height="64.0" stroke-width="1.4"/>
<path d="M1010.4,1550 L1077.7,1550 M1014.7,1613 A63,63 0 0 0 1077.7,1550 L1080,1533"/>
<path d="M1119,1553.4 L1182,1553.4 L1182,1620 M1119,1553.4 A63,63 0 0 0 1182,1617"/>
<rect x="1246.5" y="1571.0" width="31.0" height="28.0" fill="#fff" stroke-width="3" stroke="#777"/>
<path d="M1289,1564.5 A14,21.5 0 0 0 1289,1607" stroke-width="2.4"/>
<polyline points="1282.0,1572.0 1289.0,1579.0" stroke-width="2"/>
<polyline points="1282.0,1599.0 1289.0,1592.0" stroke-width="2"/>
<path d="M1263.8,1640 A63,63 0 0 1 1200.5,1707"/>
<polyline points="1196.0,1712.0 1196.0,1706.0 1201.0,1706.0 1201.0,1712.0" stroke-width="1.4"/>
<polyline points="902.7,1607.3 902.7,1673.0 973.3,1746.3 1182.0,1743.5"/>
<polyline points="908.4,1607.3 908.4,1669.6 975.7,1739.6 1182.0,1737.0"/>
<polyline points="1211.5,1772.7 1282.0,1773.0"/>
<polyline points="1211.5,1793.7 1282.0,1794.0"/>
<polyline points="1211.5,1814.7 1282.0,1815.0"/>
<polyline points="1211.5,1835.8 1282.0,1836.1"/>
<polyline points="1211.5,1856.2 1282.0,1856.5"/>
<polyline points="1211.5,1876.8 1282.0,1877.1"/>
<polyline points="1211.5,1897.6 1282.0,1897.9"/>
<polyline points="1211.5,1918.0 1282.0,1918.3"/>
</g>
<g fill="#a2a2a2" stroke="#707070">
<text x="585.4" y="456.3" font-size="22.1" textLength="103.4" lengthAdjust="spacingAndGlyphs" stroke-width="0.8" font-weight="bold">BALCONY</text>
<text x="605.6" y="478.9" font-size="14" textLength="59.6" lengthAdjust="spacingAndGlyphs" stroke-width="0.8" font-weight="bold" fill="#858585">276 S.F.</text>
<text x="933.0" y="372.8" font-size="22.1" textLength="72.3" lengthAdjust="spacingAndGlyphs" stroke-width="0.8" font-weight="bold">LIVING</text>
<text x="931.3" y="392.5" font-size="14" textLength="84.1" lengthAdjust="spacingAndGlyphs" stroke-width="0.8" font-weight="bold" fill="#858585">16'-6"x14'-6"</text>
<text x="896.0" y="632.0" font-size="22.6" textLength="77.0" lengthAdjust="spacingAndGlyphs" stroke-width="0.8" font-weight="bold">DINING</text>
<text x="897.0" y="650.7" font-size="14" textLength="71.0" lengthAdjust="spacingAndGlyphs" stroke-width="0.8" font-weight="bold" fill="#858585">11'-4"x16'-6"</text>
<text x="1065.0" y="646.0" font-size="15" textLength="49.7" lengthAdjust="spacingAndGlyphs" stroke-width="0.8" font-weight="bold" fill="#858585">FOYER</text>
<text x="705.6" y="712.0" font-size="22.1" textLength="82.4" lengthAdjust="spacingAndGlyphs" stroke-width="0.8" font-weight="bold">BRKFST</text>
<text x="714.0" y="727.0" font-size="14" textLength="64.0" lengthAdjust="spacingAndGlyphs" stroke-width="0.8" font-weight="bold" fill="#858585">9'-6"x7'-6"</text>
<text x="382.5" y="791.0" font-size="22.1" textLength="208.5" lengthAdjust="spacingAndGlyphs" stroke-width="0.8" font-weight="bold">MASTER BEDROOM</text>
<text x="456.5" y="811.5" font-size="13" textLength="77.5" lengthAdjust="spacingAndGlyphs" stroke-width="0.8" font-weight="bold" fill="#858585">14'-6"x17'-6"</text>
<text x="885.8" y="873.5" font-size="22.1" textLength="96.0" lengthAdjust="spacingAndGlyphs" stroke-width="0.8" font-weight="bold">KITCHEN</text>
<text x="892.6" y="890.0" font-size="14" textLength="75.7" lengthAdjust="spacingAndGlyphs" stroke-width="0.8" font-weight="bold" fill="#858585">16'-6"x12'-6"</text>
<text x="896.0" y="784.5" font-size="9.5" textLength="18.0" lengthAdjust="spacingAndGlyphs" stroke-width="0.8" font-weight="bold" fill="#858585">DW</text>
<text x="1252.7" y="765.0" font-size="13" textLength="32.0" lengthAdjust="spacingAndGlyphs" stroke-width="0.8" font-weight="bold" fill="#858585">ELEV</text>
<text x="669.0" y="848.0" font-size="11" textLength="53.4" lengthAdjust="spacingAndGlyphs" stroke-width="0.7" font-weight="bold" transform="rotate(44 669.0 848.0)">PANTRY</text>
<text x="673.0" y="899.0" font-size="10.5" textLength="58.0" lengthAdjust="spacingAndGlyphs" stroke-width="0.7" font-weight="bold" transform="rotate(43 673.0 899.0)">MANIFOLD</text>
<text x="797.8" y="1010.0" font-size="14" textLength="31.0" lengthAdjust="spacingAndGlyphs" stroke-width="0.8" font-weight="bold" fill="#858585">AHU</text>
<text x="448.0" y="1126.0" font-size="14" textLength="59.0" lengthAdjust="spacingAndGlyphs" stroke-width="0.8" font-weight="bold" fill="#858585">MASTER</text>
<text x="460.0" y="1142.0" font-size="14" textLength="37.0" lengthAdjust="spacingAndGlyphs" stroke-width="0.8" font-weight="bold" fill="#858585">BATH</text>
<text x="563.0" y="1198.0" font-size="14" textLength="6.5" lengthAdjust="spacingAndGlyphs" stroke-width="0.8" font-weight="bold" fill="#858585">L</text>
<text x="648.4" y="1217.7" font-size="14" textLength="25.2" lengthAdjust="spacingAndGlyphs" stroke-width="0.8" font-weight="bold" fill="#858585">WIC</text>
<text x="1194.0" y="1043.0" font-size="11" textLength="12.0" lengthAdjust="spacingAndGlyphs" stroke-width="0.8" font-weight="bold" fill="#858585">W</text>
<text x="1256.0" y="1045.0" font-size="12" textLength="9.0" lengthAdjust="spacingAndGlyphs" stroke-width="0.8" font-weight="bold" fill="#858585">D</text>
<text x="1174.3" y="1103.0" font-size="14" textLength="59.7" lengthAdjust="spacingAndGlyphs" stroke-width="0.8" font-weight="bold" fill="#858585">UTILITY/</text>
<text x="1168.6" y="1118.4" font-size="14" textLength="69.0" lengthAdjust="spacingAndGlyphs" stroke-width="0.8" font-weight="bold" fill="#858585">STORAGE</text>
<text x="1196.0" y="1175.0" font-size="12" textLength="14.0" lengthAdjust="spacingAndGlyphs" stroke-width="0.8" font-weight="bold" fill="#858585">LT</text>
<text x="1254.0" y="1176.0" font-size="9" textLength="32.0" lengthAdjust="spacingAndGlyphs" stroke-width="0.8" font-weight="bold" fill="#858585">Shower</text>
<text x="888.0" y="1337.0" font-size="14" textLength="6.0" lengthAdjust="spacingAndGlyphs" stroke-width="0.8" font-weight="bold" fill="#858585">L</text>
<text x="1020.5" y="1342.2" font-size="20.7" textLength="154.8" lengthAdjust="spacingAndGlyphs" stroke-width="0.8" font-weight="bold">FAMILY/MEDIA</text>
<text x="1066.0" y="1369.0" font-size="21.6" textLength="65.5" lengthAdjust="spacingAndGlyphs" stroke-width="0.8" font-weight="bold">ROOM</text>
<text x="1057.5" y="1396.5" font-size="14" textLength="79.1" lengthAdjust="spacingAndGlyphs" stroke-width="0.8" font-weight="bold" fill="#858585">17'-6"x14'-6"</text>
<text x="416.0" y="1456.8" font-size="22.6" textLength="143.0" lengthAdjust="spacingAndGlyphs" stroke-width="0.8" font-weight="bold">BEDROOM #2</text>
<text x="449.8" y="1476.0" font-size="14" textLength="79.1" lengthAdjust="spacingAndGlyphs" stroke-width="0.8" font-weight="bold" fill="#858585">13'-6"x13'-6"</text>
<text x="783.2" y="1495.7" font-size="14" textLength="57.1" lengthAdjust="spacingAndGlyphs" stroke-width="0.8" font-weight="bold" fill="#858585">BATH #2</text>
<text x="1005.3" y="1647.7" font-size="23.5" textLength="109.4" lengthAdjust="spacingAndGlyphs" stroke-width="0.8" font-weight="bold">BALCONY</text>
<text x="1028.9" y="1666.0" font-size="14" textLength="58.9" lengthAdjust="spacingAndGlyphs" stroke-width="0.8" font-weight="bold" fill="#858585">100 S.F.</text>
</g>
<rect x="150" y="1986" width="400" height="9" fill="url(#shadow)" opacity="0.35"/>
<rect x="550" y="1986" width="995" height="9" fill="url(#shadow)" opacity="0.85"/>
</g>
</svg>
</body></html>
